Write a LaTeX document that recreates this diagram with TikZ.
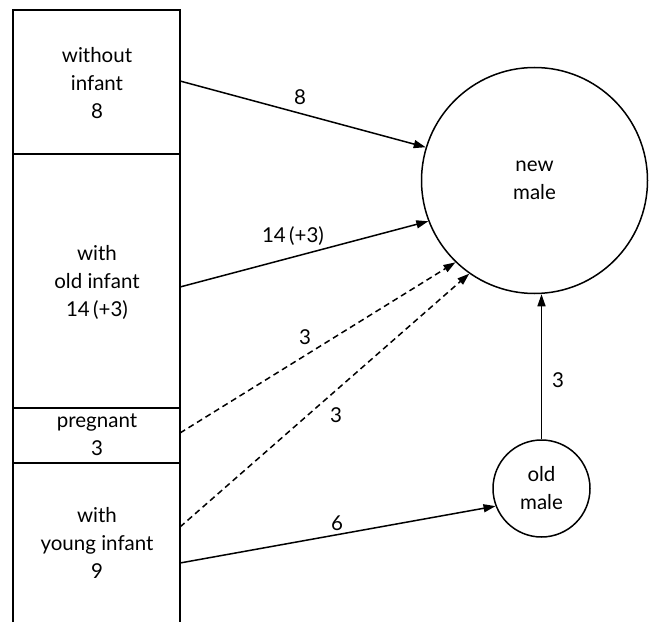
\documentclass[tikz,border=0pt]{standalone}
\usepackage{fontspec}
\setmainfont{Lato}
\usetikzlibrary{arrows.meta}
\tikzset{
  txt/.style={align=center, inner sep=0pt, font=\fontsize{20.5}{28}\selectfont},
  lbl/.style={inner sep=0pt, font=\fontsize{20.5}{28}\selectfont},
  colline/.style={line width=1.8pt},
  divline/.style={line width=1.1pt},
  circ/.style={circle, draw, line width=1.5pt, inner sep=0pt, align=center, font=\fontsize{20.5}{28}\selectfont},
  flow/.style={line width=1.5pt, -{Triangle[length=12pt,width=8pt]}},
  dflow/.style={flow, dash pattern=on 6pt off 4pt}
}
\begin{document}
\begin{tikzpicture}[x=1pt,y=1pt]
\useasboundingbox (0,0) rectangle (650,622);
% column
\draw[colline] (13,0) -- (13,612) -- (180,612) -- (180,0);
\draw[divline] (13,468) -- (180,468);
\draw[divline] (13,214) -- (180,214);
\draw[divline] (13,159) -- (180,159);
% box texts
\node[txt] (without) at (97,539) {without\\infant\\8};
\node[txt] (old) at (97,340) {with\\old infant\\14\,(+3)};
\node[txt] (preg) at (97,187) {pregnant\\3};
\node[txt] (young) at (97,79) {with\\young infant\\9};
% start points on the column edge
\coordinate (s1) at (180,541);
\coordinate (s2) at (180,335);
\coordinate (s3) at (180,189);
\coordinate (s4) at (180,95);
\coordinate (s5) at (180,59);
% circles
\node[circ, minimum size=226pt] (nm) at (534.5,441.5) {new\\male};
\node[circ, minimum size=97pt] (om) at (541.5,133.5) {old\\male};
% connectors
\draw[flow] (s1) -- (nm.163);
\draw[flow] (s2) -- (nm.201.6);
\draw[dflow] (s3) -- (nm.226);
\draw[dflow] (s4) -- (nm.235);
\draw[flow] (s5) -- (om.201);
\draw[flow] (om.north) -- (om.north |- nm.south);
% labels
\node[lbl] (l1) at (300,525) {8};
\node[lbl] (l2) at (293,386) {14\,(+3)};
\node[lbl] (l3) at (305,285) {3};
\node[lbl] (l4) at (336,207) {3};
\node[lbl] (l5) at (337,99) {6};
\node[lbl] (l6) at (558,242) {3};
\end{tikzpicture}
\end{document}
